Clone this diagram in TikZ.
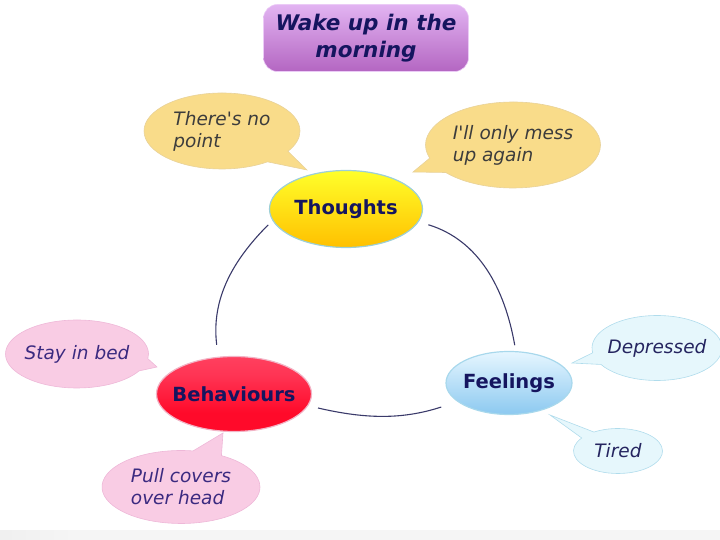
\documentclass[tikz,border=0pt]{standalone}
\usepackage{fontspec}
\setmainfont{DejaVu Sans}
\usepackage{xcolor}
\usepackage{tikz}
\usetikzlibrary{
  shapes.geometric,
  shapes.callouts
}
\definecolor{MoodNavy}{HTML}{15155F}
\definecolor{MoodLine}{HTML}{3A3A6A}
\definecolor{MoodTitleTop}{HTML}{E2B4F2}
\definecolor{MoodTitleBot}{HTML}{B466C2}
\definecolor{MoodSunTop}{HTML}{FFFF2A}
\definecolor{MoodSunBot}{HTML}{FFC000}
\definecolor{MoodSunEdge}{HTML}{9CCFD8}
\definecolor{MoodSkyTop}{HTML}{E6F6FF}
\definecolor{MoodSkyBot}{HTML}{8CC9F0}
\definecolor{MoodSkyEdge}{HTML}{A8D8EC}
\definecolor{MoodRedTop}{HTML}{FF9AB0}
\definecolor{MoodRedMid}{HTML}{FF3454}
\definecolor{MoodRedBot}{HTML}{FF0A2A}
\definecolor{MoodRedEdge}{HTML}{F2B4C6}
\definecolor{MoodGold}{HTML}{F9DC8A}
\definecolor{MoodGoldEdge}{HTML}{E8D29A}
\definecolor{MoodGoldText}{HTML}{3C3C3C}
\definecolor{MoodPink}{HTML}{F9CCE4}
\definecolor{MoodPinkEdge}{HTML}{EEB8D8}
\definecolor{MoodPinkText}{HTML}{3B2A80}
\definecolor{MoodIce}{HTML}{E6F7FC}
\definecolor{MoodIceEdge}{HTML}{B0DCEC}
\definecolor{MoodIceText}{HTML}{252560}

\pgfdeclarehorizontalshading{bandshade}{100bp}{color(0bp)=(black!16); color(30bp)=(black!4);
  color(80bp)=(black!4); color(100bp)=(black!16)}
\pgfdeclareverticalshading{redshade}{100bp}{color(0bp)=(MoodRedBot); color(25bp)=(MoodRedBot);
  color(50bp)=(MoodRedMid); color(66bp)=(MoodRedMid!85!MoodRedTop); color(75bp)=(MoodRedTop)}

\tikzset{
  mainnode/.style={ellipse, inner xsep=-10pt, inner ysep=0pt, line width=1.2pt,
    font=\fontsize{19.5}{24}\selectfont\bfseries, text=MoodNavy},
  bubble/.style={ellipse callout, inner xsep=-10pt, inner ysep=0pt,
    callout pointer arc=22, line width=0.6pt, align=left,
    font=\fontsize{18.5}{22}\selectfont\itshape},
  goldbubble/.style={bubble, fill=MoodGold, draw=MoodGoldEdge, text=MoodGoldText},
  pinkbubble/.style={bubble, fill=MoodPink, draw=MoodPinkEdge, text=MoodPinkText},
  icebubble/.style={bubble, fill=MoodIce, draw=MoodIceEdge, text=MoodIceText},
  link/.style={draw=MoodLine, line width=1.1pt}
}

\begin{document}
\begin{tikzpicture}[x=1pt, y=1pt]
    \useasboundingbox (0,0) rectangle (720,540);
    \shade[shading=bandshade] (0,0) rectangle (720,9);

    % title
    \node[rectangle, rounded corners=14pt, top color=MoodTitleTop, bottom color=MoodTitleBot,
      draw=MoodTitleTop!70!white, line width=0.6pt, minimum width=205pt, minimum height=67pt,
      align=center, text=MoodNavy, font=\fontsize{21.5}{27}\selectfont\bfseries\itshape]
      (title) at (366,502) {Wake up in the\\morning};

    % callouts
    \node[goldbubble, minimum width=156pt, minimum height=76pt, callout absolute pointer={(307,370)}]
      (nopoint) at (222,409) {There\textquotesingle s no\\point};
    \node[goldbubble, minimum width=175pt, minimum height=86pt, callout absolute pointer={(413,368)}]
      (mess) at (513,395) {I\textquotesingle ll only mess\\up again};
    \node[pinkbubble, minimum width=143pt, minimum height=68pt, callout absolute pointer={(157,173)}]
      (staybed) at (77,186) {Stay in bed};
    \node[pinkbubble, minimum width=158pt, minimum height=73pt, callout absolute pointer={(223,107)}]
      (covers) at (181,53) {Pull covers\\over head};
    \node[icebubble, minimum width=130pt, minimum height=65pt, callout absolute pointer={(572,177)}]
      (depressed) at (657,192) {Depressed};
    \node[icebubble, minimum width=89pt, minimum height=45pt, callout absolute pointer={(550,125)}]
      (tired) at (618,89) {Tired};

    % main ovals
    \node[mainnode, top color=MoodSunTop, bottom color=MoodSunBot, draw=MoodSunEdge,
      minimum width=153pt, minimum height=77pt] (thoughts) at (346,331) {Thoughts};
    \node[mainnode, top color=MoodSkyTop, bottom color=MoodSkyBot, draw=MoodSkyEdge,
      minimum width=126pt, minimum height=63pt] (feelings) at (509,157) {Feelings};
    \node[mainnode, shading=redshade, draw=MoodRedEdge,
      minimum width=155pt, minimum height=75pt] (behav) at (234,146) {Behaviours};

    \draw[link, shorten <=6pt, shorten >=12pt] (thoughts.189) to[out=225, in=97] (behav.113);
    \draw[link, shorten <=10pt, shorten >=6pt] (thoughts.350) to[out=-17, in=100] (feelings.78);
    \draw[link, shorten <=10pt, shorten >=17pt] (behav.351) to[out=-13, in=198] (feelings.200);
\end{tikzpicture}
\end{document}
